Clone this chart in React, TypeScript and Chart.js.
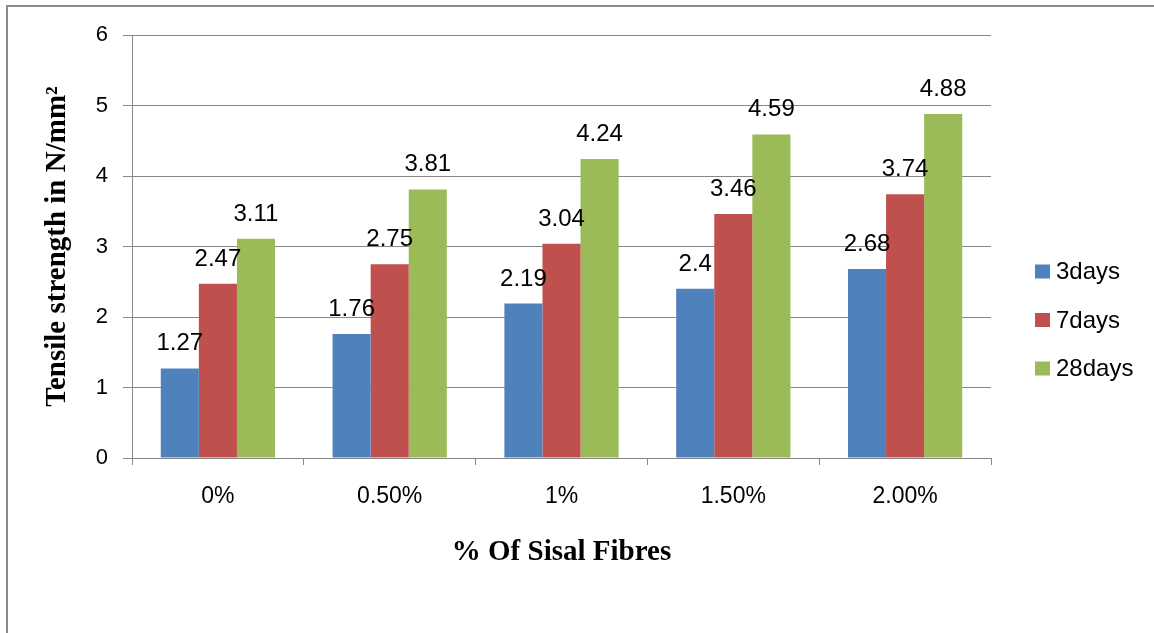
import React, { useEffect, useRef } from "react";
import { Chart, registerables } from "chart.js";

Chart.register(...registerables);

const categories = ["0%", "0.50%", "1%", "1.50%", "2.00%"];
const seriesNames = ["3days", "7days", "28days"];
const days3 = [1.27, 1.76, 2.19, 2.4, 2.68];
const days7 = [2.47, 2.75, 3.04, 3.46, 3.74];
const days28 = [3.11, 3.81, 4.24, 4.59, 4.88];
const yTicks = [0, 1, 2, 3, 4, 5, 6];
const colors = ["#4F81BD", "#C0504D", "#9BBB59"];

const SANS = '"Liberation Sans", Arial, sans-serif';
const SERIF = '"Liberation Serif", "Times New Roman", serif';
const GRID = "#888888";

const decorPlugin = {
  id: "decor",
  afterDatasetsDraw(chart: any) {
    const ctx = chart.ctx;
    ctx.save();
    ctx.font = `24px ${SANS}`;
    ctx.fillStyle = "#000";
    ctx.textAlign = "center";
    ctx.textBaseline = "alphabetic";
    chart.data.datasets.forEach((ds: any, i: number) => {
      const meta = chart.getDatasetMeta(i);
      meta.data.forEach((bar: any, j: number) => {
        ctx.fillText(String(ds.data[j]), bar.x, bar.y - 18);
      });
    });
    ctx.restore();
  },
  afterDraw(chart: any) {
    const ctx = chart.ctx;
    ctx.save();
    // outer frame
    ctx.strokeStyle = "#8a8a8a";
    ctx.lineWidth = 2;
    ctx.strokeRect(7, 6, 1200, 700);
    // legend
    const n = chart.data.datasets.length;
    const mid = (chart.chartArea.top + chart.chartArea.bottom) / 2 + 73.5;
    const gap = 48.5;
    ctx.font = `24px ${SANS}`;
    ctx.textAlign = "left";
    ctx.textBaseline = "middle";
    chart.data.datasets.forEach((ds: any, i: number) => {
      const cy = mid + (i - (n - 1) / 2) * gap;
      ctx.fillStyle = ds.backgroundColor;
      ctx.fillRect(1035, cy - 7, 15, 14);
      ctx.fillStyle = "#000";
      ctx.fillText(ds.label, 1056, cy + 1);
    });
    ctx.restore();
  },
};

export default function App() {
  const ref = useRef<HTMLCanvasElement | null>(null);
  useEffect(() => {
    document.body.style.margin = "0";
    if (!ref.current) return;
    const data = [days3, days7, days28];
    const chart = new Chart(ref.current, {
      type: "bar",
      data: {
        labels: categories,
        datasets: seriesNames.map((name, i) => ({
          label: name,
          data: data[i],
          backgroundColor: colors[i],
          borderWidth: 0,
          barPercentage: 1,
          categoryPercentage: 0.665,
        })),
      },
      options: {
        responsive: false,
        animation: false,
        devicePixelRatio: 1,
        layout: { padding: { left: 30, right: 163, top: 35, bottom: 50 } },
        plugins: {
          legend: { display: false },
          tooltip: { enabled: false },
        },
        scales: {
          x: {
            grid: {
              offset: true,
              drawOnChartArea: false,
              drawTicks: true,
              tickLength: 7,
              color: GRID,
            },
            border: { display: true, color: GRID, width: 1 },
            ticks: { font: { family: SANS, size: 23 }, color: "#000", padding: 18 },
            title: {
              display: true,
              text: "% Of Sisal Fibres",
              font: { family: SERIF, size: 29, weight: "bold" },
              color: "#000",
              padding: { top: 0, bottom: 13 },
            },
            afterFit(scale: any) {
              scale.height = 125;
            },
          },
          y: {
            min: 0,
            max: 6,
            afterBuildTicks(scale: any) {
              scale.ticks = yTicks.map((v) => ({ value: v }));
            },
            grid: { color: GRID, tickLength: 9, lineWidth: 1 },
            border: { display: true, color: GRID, width: 1 },
            ticks: { font: { family: SANS, size: 22 }, color: "#000", padding: 15 },
            title: {
              display: true,
              text: "Tensile strength in N/mm²",
              font: { family: SERIF, size: 29, weight: "bold" },
              color: "#000",
              padding: { top: 10, bottom: 0 },
            },
            afterFit(scale: any) {
              scale.width = 102;
            },
          },
        },
      },
      plugins: [decorPlugin],
    } as any);
    return () => chart.destroy();
  }, []);
  return (
    <div style={{ position: "fixed", left: 0, top: 0, width: 1154, height: 633, background: "#fff" }}>
      <canvas ref={ref} width={1154} height={633} />
    </div>
  );
}
